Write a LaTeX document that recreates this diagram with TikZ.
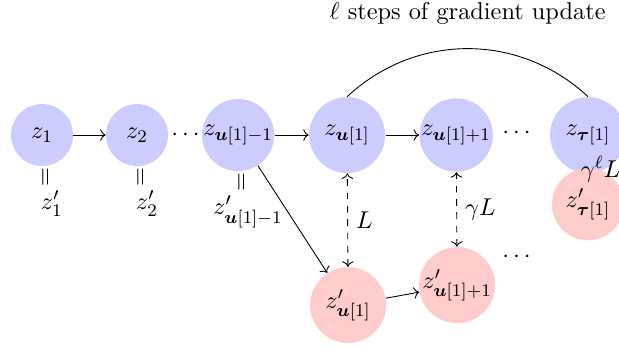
\documentclass[tikz,border=0pt,11pt]{standalone}
\usepackage{amsmath,amssymb,bm}
\usetikzlibrary{arrows.meta,positioning,calc}

\tikzset{
  znode/.style={circle,fill=blue!20,inner sep=0pt,minimum size=#1},
  znode/.default=0.98cm,
  zpnode/.style={circle,fill=red!20,inner sep=0pt,minimum size=#1},
  zpnode/.default=1.2cm,
  eqsign/.style={rotate=90,inner sep=0pt}
}

\begin{document}
\begin{tikzpicture}[x=1cm,y=1cm]
  \useasboundingbox (0,0) rectangle (9.79,-5.51);
  % top row
  \node[znode] (z1) at (0.665,-2.136) {$z_1$};
  \node[znode] (z2) at (2.168,-2.136) {$z_2$};
  \node[znode=1.14cm] (zum) at (3.766,-2.136) {$z_{\bm{u}[1]-1}$};
  \node[znode=1.2cm] (zu) at (5.49,-2.136) {$z_{\bm{u}[1]}$};
  \node[znode=1.16cm] (zup) at (7.215,-2.136) {$z_{\bm{u}[1]+1}$};
  \node[znode=1.2cm] (ztau) at (9.30,-2.136) {$z_{\bm{\tau}[1]}$};
  % perturbed copies
  \node[zpnode] (zpu) at (5.506,-4.826) {$z'_{\bm{u}[1]}$};
  \node[zpnode] (zpup) at (7.23,-4.51) {$z'_{\bm{u}[1]+1}$};
  \node[zpnode=1.14cm] (zptau) at (9.30,-3.23) {$z'_{\bm{\tau}[1]}$};
  % equalities below the first nodes
  \foreach \n/\lab in {z1/{z'_1}, z2/{z'_2}, zum/{z'_{\bm{u}[1]-1}}}{
    \node[eqsign,below=0.17cm of \n] (eq\n) {$=$};
    \node[below=0.08cm of eq\n] (p\n) {$\lab$};
  }
  % dots
  \node (dotsa) at ($(z2)!0.5!(zum)$) {$\cdots$};
  \node (dotsb) at (8.2,-2.11) {$\cdots$};
  \node (dotsc) at (8.2,-4.06) {$\cdots$};
  % arrows
  \draw[->] (z1) -- (z2);
  \draw[->] (zum) -- (zu);
  \draw[->] (zu) -- (zup);
  \draw[->] (zum) -- (zpu);
  \draw[->] (zpu) -- (zpup);
  \draw[<->,dashed] (zpu) -- node[right] {$L$} (zu);
  \draw[<->,dashed] (zpup) -- node[right] {$\gamma L$} (zup);
  \node[anchor=base west,inner sep=0pt] (gl) at (9.18,-2.80) {$\gamma^\ell L$};
  % gradient steps
  \draw (zu.north) to[bend left=43] coordinate[pos=0.5] (arctop) (ztau.north);
  \node[anchor=base] (steps) at ($(arctop)+(0,0.46)$) {$\ell$ steps of gradient update};
\end{tikzpicture}
\end{document}
